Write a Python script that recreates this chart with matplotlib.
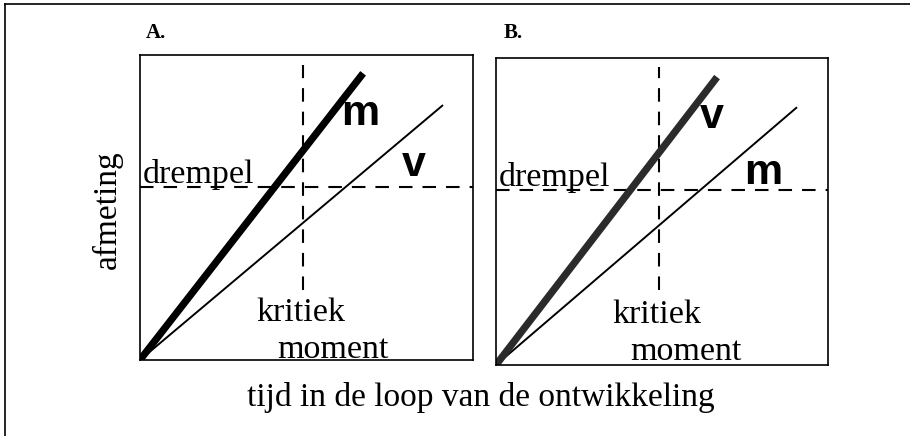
import matplotlib.pyplot as plt
from matplotlib.lines import Line2D

# panel data (axes run 0..1 in both directions)
panels = ["A.", "B."]
crit_x = [0.49, 0.49]
threshold = [0.567, 0.57]
fast_end = [(0.67, 0.94), (0.666, 0.938)]
slow_end = [(0.91, 0.836), (0.907, 0.84)]
fast_label = ["m", "v"]
slow_label = ["v", "m"]
fast_color = ["black", "#2b2b2b"]

serif = ["Liberation Serif", "DejaVu Serif"]
sans = ["Liberation Sans", "DejaVu Sans"]

fig = plt.figure(figsize=(9.1, 4.36), dpi=100)

axes_pos = [[0.1538, 0.1743, 0.366, 0.6995], [0.545, 0.1628, 0.3648, 0.704]]
fast_txt = [(0.66, 0.807), (0.65, 0.808)]
slow_txt = [(0.823, 0.64), (0.804, 0.625)]
krit_txt = [(0.483, 0.154), (0.485, 0.163)]
mom_txt = [(0.578, 0.033), (0.572, 0.042)]
dash_top = [0.967, 0.97]
dash_bot = [0.23, 0.244]
title_xy = [(0.171, 0.924), (0.564, 0.924)]

for i in range(2):
    ax = fig.add_axes(axes_pos[i])
    ax.set_xlim(0, 1)
    ax.set_ylim(0, 1)
    ax.set_xticks([])
    ax.set_yticks([])
    for s in ax.spines.values():
        s.set_linewidth(1.2)

    # dashed guides
    ax.plot([0, 1], [threshold[i]] * 2, color="black", lw=1.5,
            linestyle=(0, (6.5, 4.8)))
    ax.plot([crit_x[i]] * 2, [dash_bot[i], dash_top[i]], color="black", lw=1.5,
            linestyle=(0, (6.5, 4.8)))

    # growth lines
    ax.plot([0, slow_end[i][0]], [0, slow_end[i][1]], color="black", lw=1.4,
            solid_capstyle="butt")
    ax.plot([0, fast_end[i][0]], [0, fast_end[i][1]], color=fast_color[i], lw=5.2,
            solid_capstyle="butt")

    ax.text(*fast_txt[i], fast_label[i], family=sans, fontweight="bold",
            fontsize=31, ha="center", va="center")
    ax.text(*slow_txt[i], slow_label[i], family=sans, fontweight="bold",
            fontsize=31, ha="center", va="center")

    ax.text(0.008, threshold[i] + 0.012, "drempel", family=serif, fontsize=24.5,
            ha="left", va="baseline")
    ax.text(*krit_txt[i], "kritiek", family=serif, fontsize=24.5,
            ha="center", va="center", clip_on=False)
    ax.text(*mom_txt[i], "moment", family=serif, fontsize=24.5,
            ha="center", va="center", clip_on=False)

    fig.text(*title_xy[i], panels[i], family=serif, fontweight="bold",
             fontsize=15, ha="center", va="center")

fig.text(0.1176, 0.518, "afmeting", family=serif, fontsize=24,
         rotation=90, ha="center", va="center")
fig.text(0.5286, 0.0894, "tijd in de loop van de ontwikkeling", family=serif,
         fontsize=24, ha="center", va="center")

# outer frame (left and top edges visible)
fig.add_artist(Line2D([0.0055, 0.0055], [0.0, 0.991], color="black", lw=1.2))
fig.add_artist(Line2D([0.0055, 1.0], [0.991, 0.991], color="black", lw=1.2))

fig.savefig("out.png", dpi=100, facecolor="white")
